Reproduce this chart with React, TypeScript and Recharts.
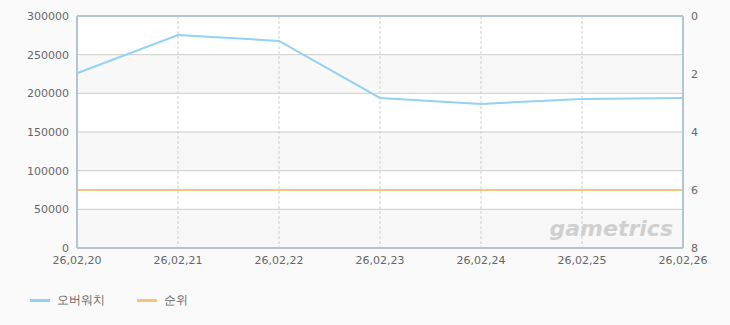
import { ComposedChart, Line, XAxis, YAxis, CartesianGrid, ReferenceLine } from 'recharts';

const dates = ['26,02,20', '26,02,21', '26,02,22', '26,02,23', '26,02,24', '26,02,25', '26,02,26'];
const overwatch = [226000, 275500, 267700, 194000, 186300, 192700, 193900];
const rank = [6, 6, 6, 6, 6, 6, 6];

const leftTicks = [0, 50000, 100000, 150000, 200000, 250000, 300000];
const rightTicks = [0, 2, 4, 6, 8];

const data = dates.map((d, i) => ({ date: d, overwatch: overwatch[i], rank: rank[i] }));

const font = '"DejaVu Sans", sans-serif';
const frame = '#b3c4d6';

export default function App() {
    return (
        <div style={{ position: 'absolute', left: 0, top: 0, width: 730, height: 325, background: '#fafafa', fontFamily: font }}>
            <ComposedChart width={730} height={270} data={data} margin={{ top: 16, right: 0, bottom: 0, left: 0 }}>
                <CartesianGrid
                    yAxisId="left"
                    stroke="#cccccc"
                    strokeDasharray="0"
                    horizontalFill={['#ffffff', '#f8f8f8']}
                    vertical={false}
                />
                <CartesianGrid yAxisId="left" stroke="#cfcfcf" strokeDasharray="3 2" horizontal={false} />
                <XAxis
                    dataKey="date"
                    tickLine={false}
                    axisLine={{ stroke: frame, strokeWidth: 2 }}
                    tick={{ fontSize: 11, fill: '#666', fontFamily: font }}
                    height={22}
                    interval={0}
                />
                <YAxis
                    yAxisId="left"
                    domain={[0, 300000]}
                    ticks={leftTicks}
                    tickLine={false}
                    axisLine={{ stroke: frame, strokeWidth: 2 }}
                    tick={{ fontSize: 11, fill: '#666', fontFamily: font }}
                    tickMargin={2}
                    width={77}
                />
                <YAxis
                    yAxisId="right"
                    orientation="right"
                    domain={[0, 8]}
                    reversed
                    ticks={rightTicks}
                    tickLine={false}
                    axisLine={{ stroke: frame, strokeWidth: 2 }}
                    tick={{ fontSize: 11, fill: '#666', fontFamily: font }}
                    tickMargin={2}
                    width={47}
                />
                <ReferenceLine yAxisId="left" y={300000} stroke={frame} strokeWidth={2} />
                <Line
                    yAxisId="left"
                    dataKey="overwatch"
                    stroke="#93d2f2"
                    strokeWidth={2}
                    dot={false}
                    isAnimationActive={false}
                />
                <Line
                    yAxisId="right"
                    dataKey="rank"
                    stroke="#f6c47c"
                    strokeWidth={2}
                    dot={false}
                    isAnimationActive={false}
                />
            </ComposedChart>
            <svg width={730} height={325} style={{ position: 'absolute', left: 0, top: 0, pointerEvents: 'none' }}>
                <text x={673} y={236} textAnchor="end" fontSize={22} fontStyle="italic" fontWeight="bold" fill="#d0d0d0" fontFamily={font}>
                    gametrics
                </text>
            </svg>
            <div style={{ position: 'absolute', left: 30, top: 292, display: 'flex', alignItems: 'center', fontSize: 12, color: '#666' }}>
                <span style={{ display: 'inline-block', width: 20, height: 3, background: '#93d2f2', marginRight: 7 }} />
                <span style={{ marginRight: 32 }}>오버워치</span>
                <span style={{ display: 'inline-block', width: 20, height: 3, background: '#f6c47c', marginRight: 7 }} />
                <span>순위</span>
            </div>
        </div>
    );
}
